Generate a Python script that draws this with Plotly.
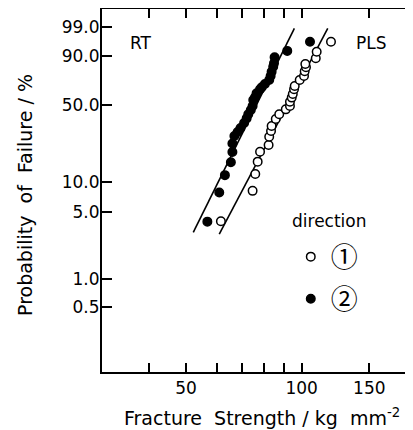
import numpy as np
import plotly.graph_objects as go

# direction (1): open circles
strength_1 = [61.6, 74.5, 75.7, 76.8, 77.9, 82.0, 82.3, 83.2, 83.5, 85.6, 87.4, 90.9, 93.2,
              93.2, 94.2, 94.8, 95.5, 95.9, 98.8, 101.4, 101.8, 102.6, 102.2, 108.8, 109.4, 119.2]
prob_1 = [4.0, 8.2, 12.1, 16.0, 19.9, 23.0, 27.4, 30.8, 34.0, 38.9, 42.5, 46.4, 49.2,
          52.8, 56.4, 59.6, 63.8, 66.8, 72.1, 75.5, 79.3, 82.4, 84.8, 88.5, 92.1, 96.1]

# direction (2): filled circles
strength_2 = [56.8, 61.0, 63.1, 65.4, 66.0, 66.0, 66.8, 68.1, 69.3, 70.8, 71.9, 72.6, 73.7, 74.5,
              74.8, 75.6, 76.3, 77.9, 78.7, 80.2, 82.3, 83.0, 83.5, 84.3, 84.7, 85.0, 91.7, 105.1]
prob_2 = [3.96, 7.9, 11.8, 15.8, 19.8, 23.8, 27.8, 30.2, 32.7, 36.0, 39.4, 42.5, 45.9, 49.2,
          54.3, 56.7, 60.2, 63.8, 65.6, 68.5, 72.1, 75.5, 79.0, 82.8, 85.3, 89.1, 92.5, 96.1]

# fitted Weibull lines
fit_strength_1 = [61.0, 116.9]
fit_prob_1 = [2.93, 98.88]
fit_strength_2 = [52.2, 95.7]
fit_prob_2 = [3.07, 98.88]

y_tick_probs = [0.5, 1.0, 5.0, 10.0, 50.0, 90.0, 99.0]
y_tick_labels = ["0.5", "1.0", "5.0", "10.0", "50.0", "90.0", "99.0"]
x_major_vals = [50, 100, 150]
x_major_labels = ["50", "100", "150"]
x_minor_vals = [40, 60, 70, 80, 90, 200]


def weib(p):
    p = np.asarray(p, dtype=float) / 100.0
    return np.log(-np.log(1.0 - p))


FONT = "DejaVu Sans, Noto Sans CJK JP, sans-serif"
y_range = [-6.872, 1.973]

fig = go.Figure()
fig.add_trace(go.Scatter(x=fit_strength_2, y=weib(fit_prob_2), mode="lines",
                         line=dict(color="black", width=1.6), showlegend=False, hoverinfo="skip"))
fig.add_trace(go.Scatter(x=fit_strength_1, y=weib(fit_prob_1), mode="lines",
                         line=dict(color="black", width=1.6), showlegend=False, hoverinfo="skip"))
fig.add_trace(go.Scatter(x=strength_1, y=weib(prob_1), mode="markers", name="①",
                         legendgroup="a",
                         marker=dict(symbol="circle", size=8.5, color="white",
                                     line=dict(color="black", width=1.5))))
fig.add_trace(go.Scatter(x=strength_2, y=weib(prob_2), mode="markers", name="②",
                         legendgroup="b",
                         marker=dict(symbol="circle", size=8.5, color="black",
                                     line=dict(color="black", width=1.5))))
# empty trace to carry the right-hand tick axis
fig.add_trace(go.Scatter(x=[None], y=[None], yaxis="y2", showlegend=False, hoverinfo="skip"))

# the page body adds an 8 px offset, so the figure is drawn 8 px smaller
fig.update_layout(
    width=405, height=422,
    margin=dict(l=94, r=0, t=1, b=58),
    paper_bgcolor="white", plot_bgcolor="white",
    font=dict(family=FONT, color="black", size=16),
    xaxis=dict(type="log", range=[np.log10(30.2), np.log10(194.9)], automargin=False,
               tickmode="array", tickvals=x_major_vals, ticktext=x_major_labels,
               ticks="inside", ticklen=9, tickwidth=1.5, tickcolor="black",
               minor=dict(tickmode="array", tickvals=x_minor_vals, ticks="inside",
                          ticklen=9, tickwidth=1.5, tickcolor="black", showgrid=False),
               showline=True, linewidth=2, linecolor="black", mirror="ticks",
               showgrid=False, zeroline=False, tickfont=dict(size=17),
               ticklabelstandoff=0),
    yaxis=dict(range=y_range, automargin=False, tickmode="array", tickvals=weib(y_tick_probs),
               ticktext=y_tick_labels, ticks="inside", ticklen=10, tickwidth=1.5,
               tickcolor="black", showline=True, linewidth=2, linecolor="black",
               mirror=False, showgrid=False, zeroline=False, tickfont=dict(size=17),
               ticklabelstandoff=-3),
    yaxis2=dict(range=y_range, overlaying="y", side="right", automargin=False,
                tickmode="array", tickvals=weib(y_tick_probs), ticks="inside", ticklen=6,
                tickwidth=1.5, tickcolor="black", showticklabels=False, showline=False,
                showgrid=False, zeroline=False),
    legend=dict(x=0.607, y=0.384, xanchor="left", yanchor="top",
                bgcolor="rgba(0,0,0,0)", traceorder="grouped", tracegroupgap=4,
                font=dict(size=27, family="Noto Sans CJK JP, DejaVu Sans")),
    annotations=[
        dict(text="Fracture  Strength / kg  mm<sup>-2</sup>", x=0.5145, y=-0.124,
             xref="paper", yref="paper", xanchor="center", yanchor="middle",
             showarrow=False, font=dict(size=19)),
        dict(text="Probability  of  Failure / %", x=-0.2476, y=0.4876, textangle=-90,
             xref="paper", yref="paper", xanchor="center", yanchor="middle",
             showarrow=False, font=dict(size=19)),
        dict(text="RT", x=0.1254, y=0.906, xref="paper", yref="paper", showarrow=False,
             xanchor="center", yanchor="middle", font=dict(size=17)),
        dict(text="PLS", x=0.868, y=0.906, xref="paper", yref="paper", showarrow=False,
             xanchor="center", yanchor="middle", font=dict(size=17)),
        dict(text="direction", x=0.733, y=0.416, xref="paper", yref="paper",
             showarrow=False, xanchor="center", yanchor="middle", font=dict(size=17)),
    ],
)

fig.write_html("out.html")
